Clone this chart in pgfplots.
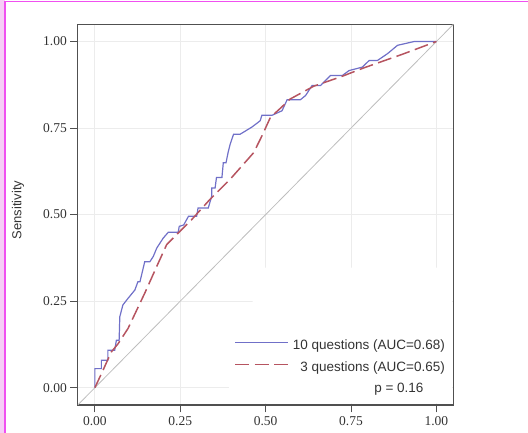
\documentclass[border=0pt]{standalone}
\usepackage{fontspec}
\setmainfont{Liberation Serif}
\setsansfont{Liberation Sans}
\usepackage{pgfplots}
\pgfplotsset{compat=1.18}

\definecolor{rocblue}{RGB}{112,112,200}
\definecolor{rocred}{RGB}{182,84,96}
\definecolor{gridgray}{RGB}{236,236,236}
\definecolor{framegray}{RGB}{80,80,80}
\definecolor{diaggray}{RGB}{190,190,190}
\definecolor{pinkedge}{RGB}{240,80,240}
\definecolor{pinkfill}{RGB}{246,206,246}

\begin{document}
\begin{tikzpicture}
\useasboundingbox (0,0) rectangle (528pt,433pt);
% screenshot frame
\fill[pinkfill] (0,0) rectangle (4.5pt,433pt);
\draw[pinkedge, line width=1.5pt] (5pt,0) -- (5pt,431.5pt) -- (528pt,431.5pt);

\begin{axis}[
    at={(77.8pt,28pt)}, anchor=south west,
    scale only axis,
    width=375.7pt, height=380.8pt,
    xmin=-0.05, xmax=1.05, ymin=-0.05, ymax=1.05,
    xtick={0,0.25,0.5,0.75,1}, ytick={0,0.25,0.5,0.75,1},
    xticklabels={0.00,0.25,0.50,0.75,1.00},
    yticklabels={0.00,0.25,0.50,0.75,1.00},
    tick align=outside, major tick length=7.5pt,
    xtick pos=bottom, ytick pos=left,
    tick style={framegray, line width=1pt},
    axis line style={framegray, line width=1.3pt},
    grid=major, grid style={gridgray, line width=0.8pt},
    tick label style={font=\fontsize{13.5pt}{15pt}\selectfont, text=black!80},
    ylabel={Sensitivity},
    every axis y label/.style={at={(rel axis cs:0,0.5)}, xshift=-59.8pt, yshift=4.6pt,
        rotate=90, anchor=center, font=\sffamily\fontsize{13pt}{15pt}\selectfont, text=black!80},
    legend cell align=right,
    legend style={at={(rel axis cs:1,0)}, anchor=south east, xshift=-8.5pt, yshift=30.5pt,
        draw=none, fill=none, inner sep=0pt, row sep=9pt, column sep=4pt,
        font=\sffamily\fontsize{13.5pt}{15pt}\selectfont, text=black!80,
        nodes={inner sep=0pt, text height=10pt, text depth=3pt}},
    legend image code/.code={\draw[#1] (0pt,3.5pt) -- (53pt,3.5pt);},
]
% white panel behind the legend
\fill[white] (axis cs:0.393,-0.045) -- (axis cs:0.393,0.13) -- (axis cs:0.462,0.13)
    -- (axis cs:0.462,0.347) -- (axis cs:1.045,0.347) -- (axis cs:1.045,-0.045) -- cycle;

\addplot[diaggray, line width=0.8pt, forget plot] coordinates {(-0.05,-0.05) (1.05,1.05)};

\addplot[rocblue, line width=1.2pt] coordinates {
(0,0) (0,0.055) (0.019,0.055) (0.019,0.079) (0.038,0.079) (0.038,0.108)
(0.058,0.108) (0.063,0.137) (0.071,0.137) (0.073,0.205) (0.082,0.239)
(0.097,0.258) (0.117,0.282) (0.126,0.306) (0.132,0.306) (0.146,0.364)
(0.161,0.364) (0.171,0.379) (0.181,0.403) (0.2,0.432) (0.215,0.449)
(0.244,0.449) (0.247,0.466) (0.26,0.47) (0.274,0.495) (0.298,0.495)
(0.302,0.519) (0.332,0.519) (0.342,0.553) (0.342,0.577) (0.352,0.577)
(0.356,0.607) (0.372,0.607) (0.376,0.65) (0.384,0.65) (0.39,0.679)
(0.396,0.703) (0.406,0.732) (0.425,0.732) (0.46,0.753) (0.484,0.771)
(0.489,0.787) (0.519,0.787) (0.548,0.80) (0.563,0.832) (0.602,0.832)
(0.617,0.844) (0.636,0.873) (0.661,0.873) (0.69,0.902) (0.725,0.902)
(0.744,0.916) (0.783,0.926) (0.803,0.945) (0.827,0.945) (0.857,0.965)
(0.886,0.989) (0.935,1.0) (1,1)};
\addlegendentry{10 questions (AUC=0.68)}

\addplot[rocred, line width=1.5pt, dash pattern=on 14pt off 5.5pt] coordinates {
(0,0) (0.019,0.04) (0.048,0.103) (0.068,0.127) (0.097,0.171) (0.146,0.273)
(0.181,0.35) (0.21,0.413) (0.239,0.442) (0.283,0.485) (0.337,0.544)
(0.396,0.602) (0.465,0.679) (0.489,0.727) (0.514,0.781) (0.543,0.807)
(0.572,0.834) (0.641,0.871) (0.72,0.898) (0.788,0.924) (0.9,0.963) (1,1)};
\addlegendentry{3 questions (AUC=0.65)}

\node[anchor=base east, font=\sffamily\fontsize{13.5pt}{15pt}\selectfont, text=black!80]
    at ([xshift=-26.5pt, yshift=12.5pt]rel axis cs:1,0) {p = 0.16};
\end{axis}
\end{tikzpicture}
\end{document}
